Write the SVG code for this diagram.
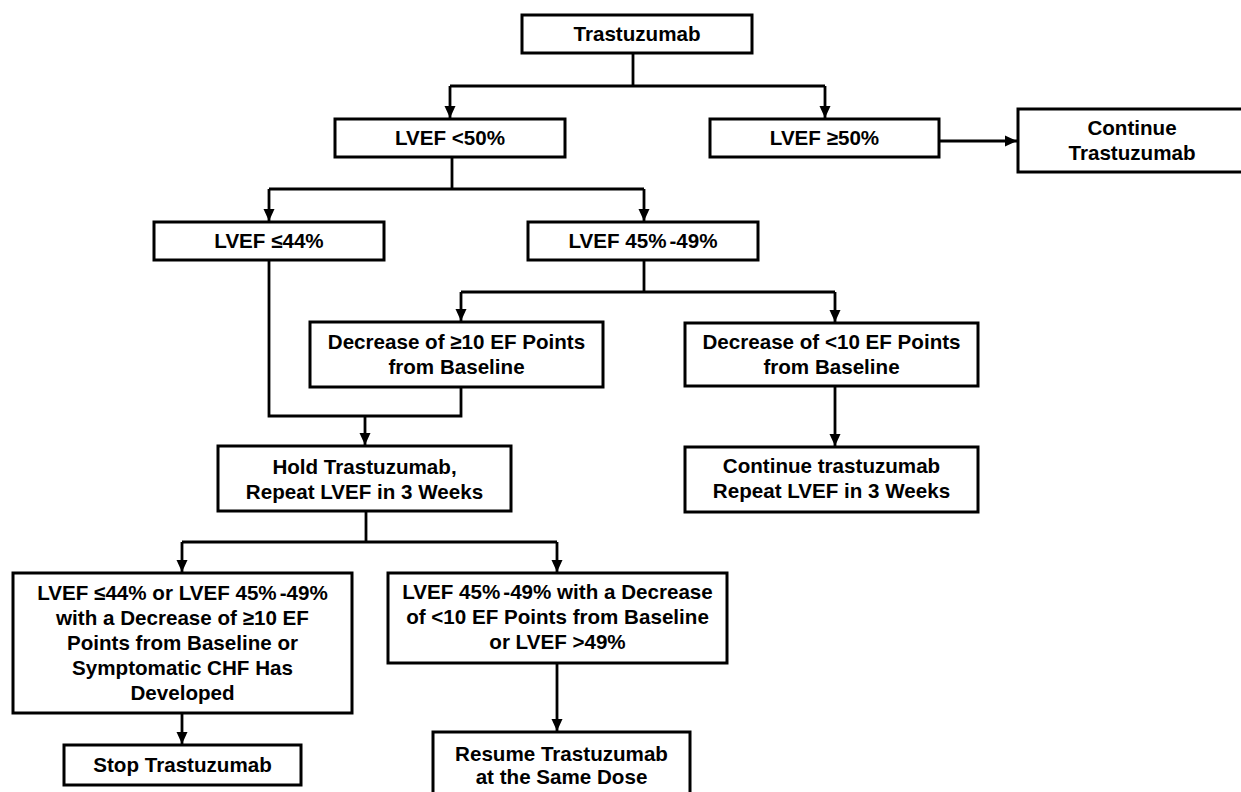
<svg xmlns="http://www.w3.org/2000/svg" width="1241" height="792" viewBox="0 0 1241 792">
<defs>
<style>
.box{fill:#fff;stroke:#000;stroke-width:3}
.t{font-family:"Liberation Sans",Arial,sans-serif;font-weight:bold;font-size:20.6px;fill:#000;text-anchor:middle}
.c{fill:none;stroke:#000;stroke-width:2.8}
</style>
<marker id="ah" markerUnits="userSpaceOnUse" markerWidth="13" markerHeight="13" viewBox="0 0 13 13" refX="12" refY="6.5" orient="auto">
<path d="M0,1 L12,6.5 L0,12 Z" fill="#000"/>
</marker>
</defs>
<rect width="1241" height="792" fill="#fff"/>
<g id="connectors">
<path class="c" d="M633,53 V86"/>
<path class="c" d="M450,86 H825"/>
<path class="c" d="M450,86 V118" marker-end="url(#ah)"/>
<path class="c" d="M825,86 V118" marker-end="url(#ah)"/>
<path class="c" d="M939,141 H1017" marker-end="url(#ah)"/>
<path class="c" d="M452,157 V189"/>
<path class="c" d="M269,189 H644"/>
<path class="c" d="M269,189 V221" marker-end="url(#ah)"/>
<path class="c" d="M644,189 V221" marker-end="url(#ah)"/>
<path class="c" d="M644,260 V292"/>
<path class="c" d="M461,292 H835"/>
<path class="c" d="M461,292 V321" marker-end="url(#ah)"/>
<path class="c" d="M835,292 V322" marker-end="url(#ah)"/>
<path class="c" d="M269,260 V416 H461 V387"/>
<path class="c" d="M365,416 V445" marker-end="url(#ah)"/>
<path class="c" d="M835,386 V446" marker-end="url(#ah)"/>
<path class="c" d="M366,511 V542"/>
<path class="c" d="M182,542 H557"/>
<path class="c" d="M182,542 V572" marker-end="url(#ah)"/>
<path class="c" d="M557,542 V572" marker-end="url(#ah)"/>
<path class="c" d="M182,713 V744" marker-end="url(#ah)"/>
<path class="c" d="M557,663 V731" marker-end="url(#ah)"/>
</g>
<g id="n-trastuzumab"><rect class="box" x="522" y="15" width="230" height="38"/><text class="t" x="637" y="41">Trastuzumab</text></g>
<g id="n-lvef-lt50"><rect class="box" x="335" y="119" width="230" height="38"/><text class="t" x="450" y="145">LVEF &lt;50%</text></g>
<g id="n-lvef-ge50"><rect class="box" x="710" y="119" width="229" height="38"/><text class="t" x="824.5" y="145">LVEF ≥50%</text></g>
<g id="n-continue"><rect class="box" x="1018" y="109" width="228" height="63"/><text class="t" x="1132" y="135">Continue</text><text class="t" x="1132" y="160">Trastuzumab</text></g>
<g id="n-lvef-le44"><rect class="box" x="154" y="222" width="230" height="38"/><text class="t" x="269" y="248">LVEF ≤44%</text></g>
<g id="n-lvef-45-49"><rect class="box" x="528" y="222" width="230" height="38"/><text class="t" x="643" y="248">LVEF 45%<tspan dx="3">-49%</tspan></text></g>
<g id="n-dec-ge10"><rect class="box" x="310" y="322" width="293" height="65"/><text class="t" x="456.5" y="349">Decrease of ≥10 EF Points</text><text class="t" x="456.5" y="374">from Baseline</text></g>
<g id="n-dec-lt10"><rect class="box" x="685" y="323" width="293" height="63"/><text class="t" x="831.5" y="349">Decrease of &lt;10 EF Points</text><text class="t" x="831.5" y="374">from Baseline</text></g>
<g id="n-hold"><rect class="box" x="218" y="446" width="293" height="65"/><text class="t" x="364.5" y="474">Hold Trastuzumab,</text><text class="t" x="364.5" y="499">Repeat LVEF in 3 Weeks</text></g>
<g id="n-continue-repeat"><rect class="box" x="685" y="447" width="293" height="65"/><text class="t" x="831.5" y="473">Continue trastuzumab</text><text class="t" x="831.5" y="498">Repeat LVEF in 3 Weeks</text></g>
<g id="n-stop-cond"><rect class="box" x="13" y="573" width="339" height="140"/>
<text class="t" x="182.5" y="600">LVEF ≤44% or LVEF 45%<tspan dx="3">-49%</tspan></text>
<text class="t" x="182.5" y="625">with a Decrease of ≥10 EF</text>
<text class="t" x="182.5" y="650">Points from Baseline or</text>
<text class="t" x="182.5" y="675">Symptomatic CHF Has</text>
<text class="t" x="182.5" y="700">Developed</text></g>
<g id="n-resume-cond"><rect class="box" x="388" y="573" width="339" height="90"/>
<text class="t" x="557.5" y="599">LVEF 45%<tspan dx="3">-49% with a Decrease</tspan></text>
<text class="t" x="557.5" y="624">of &lt;10 EF Points from Baseline</text>
<text class="t" x="557.5" y="649">or LVEF &gt;49%</text></g>
<g id="n-stop"><rect class="box" x="64" y="745" width="237" height="40"/><text class="t" x="182.5" y="772">Stop Trastuzumab</text></g>
<g id="n-resume"><rect class="box" x="433" y="732" width="257" height="70"/><text class="t" x="561.5" y="761">Resume Trastuzumab</text><text class="t" x="561.5" y="784">at the Same Dose</text></g>
</svg>
